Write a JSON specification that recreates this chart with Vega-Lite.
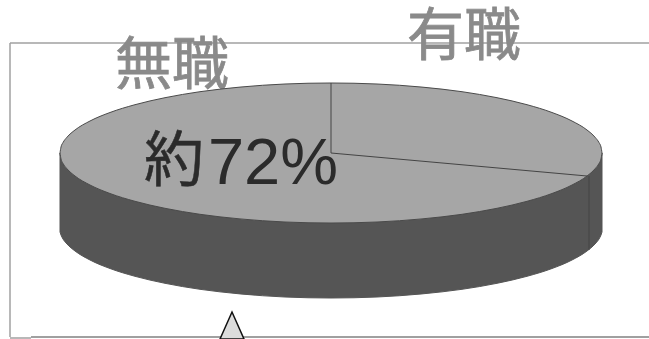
{
  "$schema": "https://vega.github.io/schema/vega-lite/v6.json",
  "width": 649,
  "height": 339,
  "padding": 0,
  "autosize": {"type": "none"},
  "background": "#ffffff",
  "view": {"stroke": null},
  "datasets": {
    "outline": [
      {"across": 60, "upper": 153, "lower": 153, "floor": 232},
      {"across": 61, "upper": 147, "lower": 159, "floor": 235},
      {"across": 63, "upper": 142.6, "lower": 163.4, "floor": 239},
      {"across": 67, "upper": 137.2, "lower": 168.8, "floor": 244},
      {"across": 75, "upper": 130, "lower": 176, "floor": 251},
      {"across": 90, "upper": 121, "lower": 185, "floor": 260},
      {"across": 110, "upper": 112.5, "lower": 193.5, "floor": 268.5},
      {"across": 135, "upper": 104.7, "lower": 201.3, "floor": 276.3},
      {"across": 165, "upper": 97.7, "lower": 208.3, "floor": 283.3},
      {"across": 200, "upper": 91.7, "lower": 214.3, "floor": 289.3},
      {"across": 240, "upper": 87.1, "lower": 218.9, "floor": 293.9},
      {"across": 285, "upper": 84, "lower": 222, "floor": 297},
      {"across": 331, "upper": 83, "lower": 223, "floor": 298},
      {"across": 377, "upper": 84, "lower": 222, "floor": 297},
      {"across": 422, "upper": 87.1, "lower": 218.9, "floor": 293.9},
      {"across": 462, "upper": 91.7, "lower": 214.3, "floor": 289.3},
      {"across": 497, "upper": 97.7, "lower": 208.3, "floor": 283.3},
      {"across": 527, "upper": 104.7, "lower": 201.3, "floor": 276.3},
      {"across": 552, "upper": 112.5, "lower": 193.5, "floor": 268.5},
      {"across": 572, "upper": 121, "lower": 185, "floor": 260},
      {"across": 587, "upper": 130, "lower": 176, "floor": 251},
      {"across": 595, "upper": 137.2, "lower": 168.8, "floor": 244},
      {"across": 599, "upper": 142.6, "lower": 163.4, "floor": 239},
      {"across": 601, "upper": 147, "lower": 159, "floor": 235},
      {"across": 602, "upper": 153, "lower": 153, "floor": 232}
    ],
    "frame": [
      {"a": 10, "b": 43, "a2": 10, "b2": 337, "tone": "edge"},
      {"a": 10, "b": 43, "a2": 649, "b2": 43, "tone": "edge"},
      {"a": 10, "b": 338, "a2": 31, "b2": 338, "tone": "edge"},
      {"a": 31, "b": 337, "a2": 649, "b2": 337, "tone": "base"}
    ],
    "dividers": [
      {"a": 331, "b": 153, "a2": 331, "b2": 83},
      {"a": 331, "b": 153, "a2": 587, "b2": 176},
      {"a": 589, "b": 176, "a2": 589, "b2": 250}
    ],
    "wedge": [
      {"across": 220, "tip": 339, "foot": 339},
      {"across": 232, "tip": 312, "foot": 339},
      {"across": 244, "tip": 339, "foot": 339}
    ]
  },
  "encoding": {
    "x": {"type": "quantitative", "scale": {"domain": [0, 649], "nice": false, "zero": false}, "axis": null},
    "y": {"type": "quantitative", "scale": {"domain": [339, 0], "nice": false, "zero": false}, "axis": null}
  },
  "layer": [
    {
      "data": {"name": "frame"},
      "mark": {"type": "rule", "strokeWidth": 1.5},
      "encoding": {
        "x": {"field": "a", "type": "quantitative"},
        "y": {"field": "b", "type": "quantitative"},
        "x2": {"field": "a2"},
        "y2": {"field": "b2"},
        "color": {"field": "tone", "type": "nominal", "scale": {"domain": ["edge", "base"], "range": ["#a0a0a0", "#808080"]}, "legend": null}
      }
    },
    {
      "data": {"values": [
        {"label": "無職", "at": 172, "mid": 67},
        {"label": "有職", "at": 464, "mid": 38}
      ]},
      "mark": {"type": "text", "font": "Noto Sans CJK JP", "fontSize": 57, "color": "#8a8a8a", "stroke": "#8a8a8a", "strokeWidth": 0.8, "align": "center", "baseline": "middle"},
      "encoding": {
        "x": {"field": "at", "type": "quantitative"},
        "y": {"field": "mid", "type": "quantitative"},
        "text": {"field": "label"}
      }
    },
    {
      "data": {"name": "outline"},
      "mark": {"type": "area", "color": "#555555", "stroke": "#555555", "strokeWidth": 1, "interpolate": "monotone"},
      "encoding": {
        "x": {"field": "across", "type": "quantitative"},
        "y": {"field": "lower", "type": "quantitative"},
        "y2": {"field": "floor"}
      }
    },
    {
      "data": {"name": "outline"},
      "mark": {"type": "area", "color": "#a6a6a6", "stroke": "#4a4a4a", "strokeWidth": 1, "interpolate": "monotone"},
      "encoding": {
        "x": {"field": "across", "type": "quantitative"},
        "y": {"field": "upper", "type": "quantitative"},
        "y2": {"field": "lower"}
      }
    },
    {
      "data": {"name": "dividers"},
      "mark": {"type": "rule", "color": "#444444", "strokeWidth": 1},
      "encoding": {
        "x": {"field": "a", "type": "quantitative"},
        "y": {"field": "b", "type": "quantitative"},
        "x2": {"field": "a2"},
        "y2": {"field": "b2"}
      }
    },
    {
      "data": {"values": [{"label": "約", "at": 174, "mid": 163}]},
      "mark": {"type": "text", "font": "Noto Sans CJK JP", "fontSize": 60, "color": "#2b2b2b", "stroke": "#2b2b2b", "strokeWidth": 0.5, "align": "center", "baseline": "middle"},
      "encoding": {
        "x": {"field": "at", "type": "quantitative"},
        "y": {"field": "mid", "type": "quantitative"},
        "text": {"field": "label"}
      }
    },
    {
      "data": {"values": [{"label": "72%", "at": 338, "base": 184}]},
      "mark": {"type": "text", "font": "Liberation Sans", "fontSize": 65, "color": "#2b2b2b", "align": "right", "baseline": "alphabetic"},
      "encoding": {
        "x": {"field": "at", "type": "quantitative"},
        "y": {"field": "base", "type": "quantitative"},
        "text": {"field": "label"}
      }
    },
    {
      "data": {"name": "wedge"},
      "mark": {"type": "area", "color": "#dcdcdc", "stroke": "#111111", "strokeWidth": 1.5},
      "encoding": {
        "x": {"field": "across", "type": "quantitative"},
        "y": {"field": "tip", "type": "quantitative"},
        "y2": {"field": "foot"}
      }
    }
  ]
}
